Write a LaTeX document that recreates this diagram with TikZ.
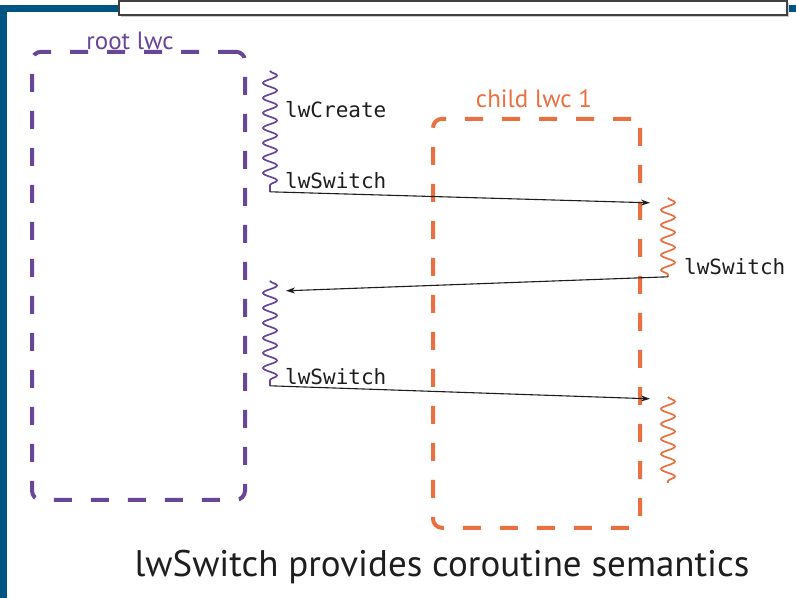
\documentclass[tikz,border=0pt]{standalone}
\usepackage{fontspec}
\setmainfont{PT Sans}
\newfontfamily\codefont{DejaVu Sans Mono}
\usetikzlibrary{decorations.pathmorphing, arrows.meta}
\definecolor{slideblue}{RGB}{0,84,130}
\definecolor{lwcpurple}{RGB}{104,70,152}
\definecolor{lwcorange}{RGB}{234,112,66}
\definecolor{inkgray}{RGB}{30,30,30}

\begin{document}
\begin{tikzpicture}[x=1pt,y=-1pt,
  lwcbox/.style={draw=#1, line width=4pt, dash pattern=on 18pt off 19pt,
    rounded corners=9pt, inner sep=0pt},
  boxtitle/.style={text=#1, font=\fontsize{25}{27}\selectfont, anchor=base, inner sep=0pt},
  callname/.style={text=inkgray, font=\codefont\fontsize{21}{23}\selectfont,
    anchor=base west, inner sep=0pt},
  squiggle/.style={draw=#1, line width=1.7pt, decorate,
    decoration={snake, amplitude=7pt, segment length=15pt}},
  switcharrow/.style={draw=inkgray, line width=1.1pt, -{Stealth[length=9pt,width=6pt]}},
]
% slide frame
\fill[slideblue] (0,0) rectangle (796,593);
\fill[white] (7,7) rectangle (796,593);
\fill[gray!40] (121,-2) rectangle (789,12);
\filldraw[fill=white, draw=black!75, line width=1.6pt] (119,-4) rectangle (787,10);
\useasboundingbox (0,0) rectangle (796,593);

% coroutine containers
\node[lwcbox=lwcpurple, minimum width=213pt, minimum height=448pt] (root) at (138.5,271) {};
\node[lwcbox=lwcorange, minimum width=207pt, minimum height=409pt] (child) at (536.5,318.5) {};
\node[boxtitle=lwcpurple] (roottitle) at (130,45) {root lwc};
\node[boxtitle=lwcorange] (childtitle) at (534,103) {child lwc 1};

% execution stretches
\coordinate (r1top) at (270,66);
\coordinate (r1bot) at (270,187);
\coordinate (r2top) at (270,276);
\coordinate (r2bot) at (270,381);
\coordinate (c1top) at (668,193);
\coordinate (c1bot) at (668,272);
\coordinate (c2top) at (668,392);
\coordinate (c2bot) at (668,478);
\draw[squiggle=lwcpurple] (r1top) -- (r1bot);
\draw[squiggle=lwcpurple] (r2top) -- (r2bot);
\draw[squiggle=lwcorange] (c1top) -- (c1bot);
\draw[squiggle=lwcorange] (c2top) -- (c2bot);

% call labels
\node[callname] (create) at (285,113) {lwCreate};
\node[callname] (sw1) at (285,184) {lwSwitch};
\node[callname] (sw2) at (684,270) {lwSwitch};
\node[callname] (sw3) at (285,380) {lwSwitch};

% switches between the two contexts
\coordinate (a1end) at (650,198);
\coordinate (a2end) at (286,286);
\coordinate (a3end) at (650,394);
\draw[switcharrow] (r1bot) -- (a1end);
\draw[switcharrow] (c1bot) -- (a2end);
\draw[switcharrow] (r2bot) -- (a3end);

% caption
\node[text=inkgray, font=\fontsize{37}{39}\selectfont, anchor=base, inner sep=0pt]
  (caption) at (442,572) {lwSwitch provides coroutine semantics};
\end{tikzpicture}
\end{document}
